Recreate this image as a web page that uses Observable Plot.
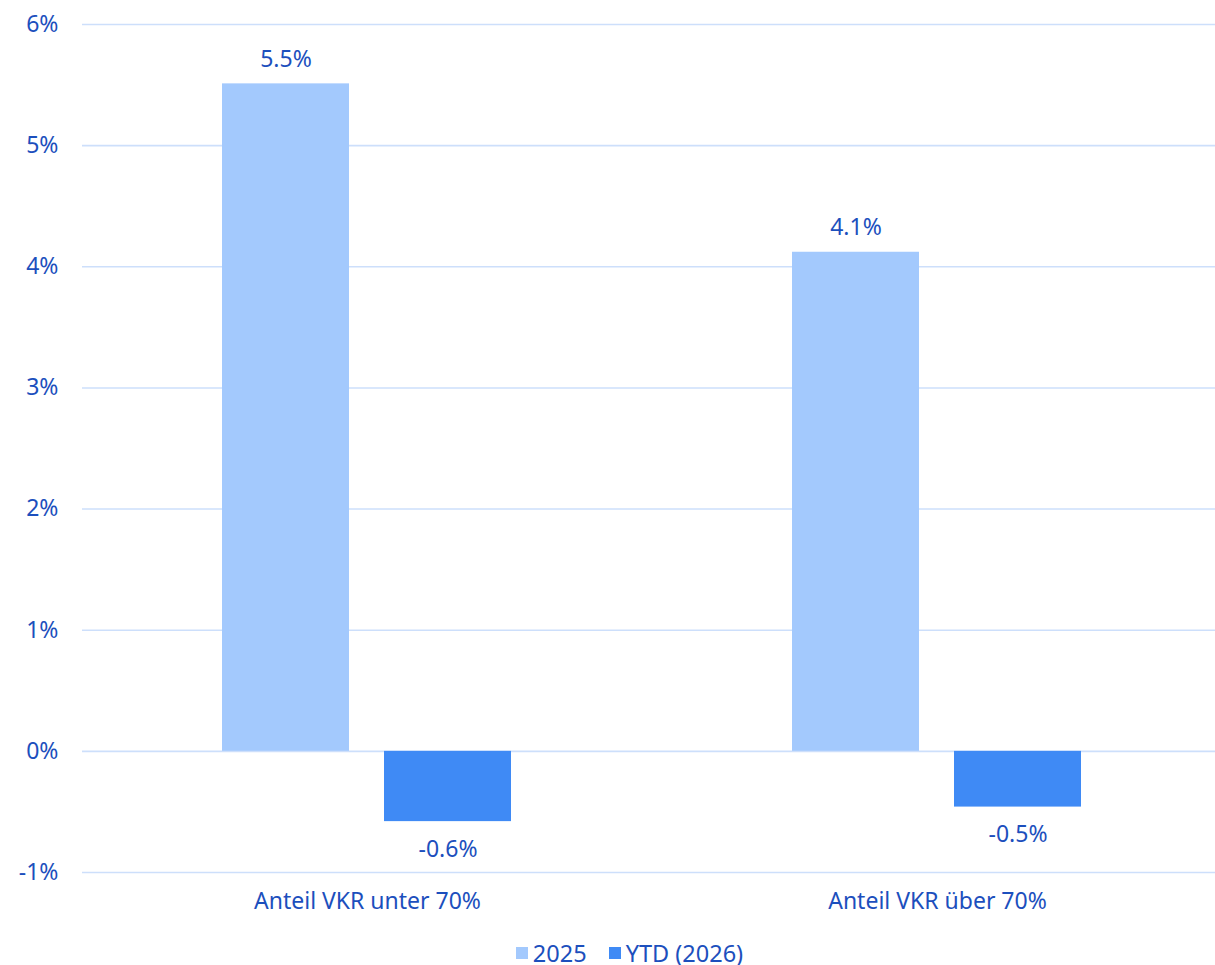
<!DOCTYPE html>
<html>
<head>
<meta charset="utf-8">
<script src="https://cdn.jsdelivr.net/npm/d3@7"></script>
<script src="https://cdn.jsdelivr.net/npm/@observablehq/plot@0.6"></script>
<style>
  html, body { margin: 0; padding: 0; background: #fff; overflow: hidden; }
  #chart svg { display: block; }
  .legend { display: flex; justify-content: center; gap: 22px; font-family: "Noto Sans", sans-serif; font-size: 23.5px; line-height: 24px; height: 24px; color: #1c4fbd; margin-top: 16px; margin-left: 44px; }
  .legend span { display: inline-flex; align-items: center; }
  .legend i { display: inline-block; width: 12px; height: 12px; margin-right: 5px; }
</style>
</head>
<body>
<div id="chart"></div>
<div class="legend" id="legend"></div>
<script>
const categories = ["Anteil VKR unter 70%", "Anteil VKR über 70%"];
const seriesNames = ["2025", "YTD (2026)"];
const values2025 = [5.51, 4.12];
const valuesYTD = [-0.58, -0.46];
const yTicks = [-1, 0, 1, 2, 3, 4, 5, 6];
const colors = ["#a3c9fd", "#3f8af5"];

const data = [];
categories.forEach((c, i) => {
  data.push({cat: c, series: seriesNames[0], value: values2025[i]});
  data.push({cat: c, series: seriesNames[1], value: valuesYTD[i]});
});

const textColor = "#1c4fbd";
const font = "Noto Sans, sans-serif";
const fs = 23;

const chart = Plot.plot({
  width: 1215,
  height: 925,
  marginLeft: 82,
  marginRight: -7,
  marginTop: 24,
  marginBottom: 53,
  style: {fontFamily: font, fontSize: fs + "px", color: textColor, background: "#fff"},
  fx: {domain: categories, padding: 0, label: null, axis: null},
  x: {domain: seriesNames, paddingInner: 0.215, paddingOuter: 0.856, axis: null},
  y: {domain: [-1, 6], label: null, axis: null},
  color: {domain: seriesNames, range: colors},
  marks: [
    Plot.ruleY(yTicks, {stroke: "#cddffb", strokeWidth: 1.6}),
    Plot.barY(data, {fx: "cat", x: "series", y: "value", fill: "series"}),
    Plot.text(data.filter(d => d.value >= 0), {
      fx: "cat", x: "series", y: "value",
      text: d => d.value.toFixed(1) + "%",
      lineAnchor: "bottom", dy: -17,
      fill: textColor, fontSize: fs
    }),
    Plot.text(data.filter(d => d.value < 0), {
      fx: "cat", x: "series", y: "value",
      text: d => d.value.toFixed(1) + "%",
      lineAnchor: "top", dy: 19,
      fill: textColor, fontSize: fs
    }),
    Plot.axisY({ticks: yTicks, tickFormat: d => d + "%", tickSize: 0, tickPadding: 24, label: null, fontSize: fs, fill: textColor}),
    Plot.axisFx({anchor: "bottom", tickSize: 0, tickPadding: 20, label: null, fontSize: fs, fill: textColor})
  ]
});

document.getElementById("chart").appendChild(chart);

const legend = document.getElementById("legend");
seriesNames.forEach((s, i) => {
  const span = document.createElement("span");
  span.innerHTML = `<i style="background:${colors[i]}"></i>${s}`;
  legend.appendChild(span);
});
</script>
</body>
</html>
